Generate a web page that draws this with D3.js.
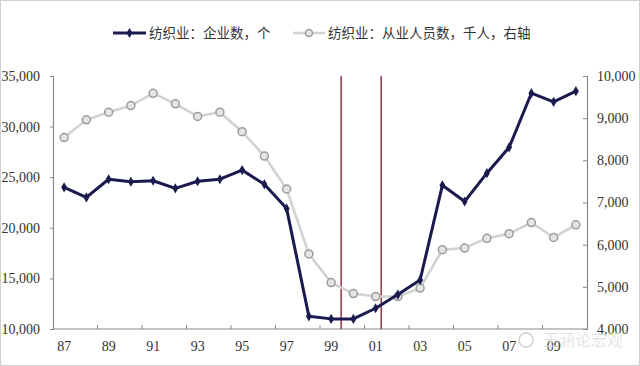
<!DOCTYPE html>
<html>
<head>
<meta charset="utf-8">
<script src="https://cdn.jsdelivr.net/npm/d3@7"></script>
<style>
  html, body { margin: 0; padding: 0; background: #fff; }
  svg { display: block; }
</style>
</head>
<body>
<svg id="chart"></svg>
<script>
// Textile industry: number of firms (left axis) vs employees, thousands (right axis), 1987-2010

const years = ["87","88","89","90","91","92","93","94","95","96","97","98",
               "99","00","01","02","03","04","05","06","07","08","09","10"];
const tickLabels = ["87","89","91","93","95","97","99","01","03","05","07","09"];

// 企业数，个 (left axis)
const firms = [24000, 23000, 24800, 24550, 24650, 23900, 24600, 24800, 25700, 24300, 21900, 11250,
               11000, 11000, 12050, 13400, 14850, 24200, 22600, 25400, 27950, 33300, 32450, 33500];
// 从业人员数，千人 (right axis)
const workers = [8540, 8960, 9140, 9300, 9590, 9340, 9040, 9140, 8680, 8100, 7320, 5780,
                 5100, 4840, 4770, 4770, 4970, 5880, 5920, 6150, 6260, 6525, 6170, 6470];

const leftTicks = [10000, 15000, 20000, 25000, 30000, 35000];
const rightTicks = [4000, 5000, 6000, 7000, 8000, 9000, 10000];
const eventYears = [1999.45, 2001.25];   // the two red vertical markers

const legendLabels = ["纺织业：企业数，个", "纺织业：从业人员数，千人，右轴"];

(function () {
  const W = 640, H = 366;
  const M = { top: 76, right: 53, bottom: 37, left: 53 };
  const x0 = M.left, x1 = W - M.right, yTop = M.top, yBot = H - M.bottom;

  const NAVY = "#1b1a4f";
  const GRAY_LINE = "#d2d2d2";
  const GRAY_MARK = "#9c9c9c";
  const RED = "#8e2636";
  const AXIS = "#8a8a8a";
  const SERIF = "'Liberation Serif', 'Times New Roman', serif";
  const CJK = "'Noto Sans CJK SC', 'Noto Sans', sans-serif";

  const svg = d3.select("#chart").attr("width", W).attr("height", H);

  // light frame round the picture
  svg.append("rect")
    .attr("x", 0.5).attr("y", 0.5).attr("width", W - 1).attr("height", H - 1)
    .attr("fill", "#fff").attr("stroke", "#cfcfcf");

  const x = d3.scaleBand().domain(years).range([x0, x1]);
  const step = x.step();
  const cx = d => x(d) + step / 2;
  const xYear = d3.scaleLinear().domain([1986.5, 2010.5]).range([x0, x1]);

  const yL = d3.scaleLinear().domain([10000, 35000]).range([yBot, yTop]);
  const yR = d3.scaleLinear().domain([4000, 10000]).range([yBot, yTop]);
  const fmt = d3.format(",");

  // left axis
  const gl = svg.append("g").attr("transform", `translate(${x0},0)`)
    .call(d3.axisLeft(yL).tickValues(leftTicks).tickFormat(fmt).tickSize(3).tickPadding(10));
  // right axis
  const gr = svg.append("g").attr("transform", `translate(${x1},0)`)
    .call(d3.axisRight(yR).tickValues(rightTicks).tickFormat(fmt).tickSize(-4).tickPadding(10));
  [gl, gr].forEach(g => {
    g.select(".domain").attr("stroke", AXIS).attr("stroke-width", 1.2);
    g.selectAll(".tick line").attr("stroke", AXIS);
    g.selectAll(".tick text").attr("font-family", SERIF).attr("font-size", 14).attr("fill", "#333");
  });
  gl.selectAll(".tick text").attr("x", -13);

  // bottom axis: ticks between every second category, labels under odd years
  svg.append("line")
    .attr("x1", x0).attr("x2", x1).attr("y1", yBot).attr("y2", yBot)
    .attr("stroke", AXIS).attr("stroke-width", 1.2);
  svg.append("g").selectAll("line")
    .data(years.filter((d, i) => i > 0 && i % 2 === 0)).enter()
    .append("line")
    .attr("x1", d => x(d)).attr("x2", d => x(d))
    .attr("y1", yBot).attr("y2", yBot - 4)
    .attr("stroke", AXIS);
  svg.append("g").selectAll("text")
    .data(tickLabels).enter()
    .append("text")
    .attr("x", d => cx(d)).attr("y", yBot + 22)
    .attr("text-anchor", "middle")
    .attr("font-family", SERIF).attr("font-size", 14).attr("fill", "#333")
    .text(d => d);

  // red event lines
  svg.append("g").selectAll("line")
    .data(eventYears).enter()
    .append("line")
    .attr("x1", d => xYear(d)).attr("x2", d => xYear(d))
    .attr("y1", yTop).attr("y2", yBot)
    .attr("stroke", RED).attr("stroke-width", 1.4);

  // employees — light gray line with hollow circles
  svg.append("path")
    .datum(workers)
    .attr("fill", "none").attr("stroke", GRAY_LINE).attr("stroke-width", 2.6)
    .attr("d", d3.line().x((d, i) => cx(years[i])).y(d => yR(d)));
  svg.append("g").selectAll("circle")
    .data(workers).enter()
    .append("circle")
    .attr("cx", (d, i) => cx(years[i])).attr("cy", d => yR(d)).attr("r", 4)
    .attr("fill", "#e4e4e4").attr("stroke", GRAY_MARK).attr("stroke-width", 1.5);

  // firms — navy line with small diamonds
  svg.append("path")
    .datum(firms)
    .attr("fill", "none").attr("stroke", NAVY).attr("stroke-width", 3)
    .attr("stroke-linejoin", "round")
    .attr("d", d3.line().x((d, i) => cx(years[i])).y(d => yL(d)));
  const diamond = d3.symbol().type(d3.symbolDiamond).size(30);
  svg.append("g").selectAll("path")
    .data(firms).enter()
    .append("path")
    .attr("transform", (d, i) => `translate(${cx(years[i])},${yL(d)})`)
    .attr("d", diamond)
    .attr("fill", NAVY);

  // legend
  const lg = svg.append("g").attr("transform", "translate(0,33)");
  lg.append("line").attr("x1", 113).attr("x2", 146).attr("stroke", NAVY).attr("stroke-width", 3);
  lg.append("path").attr("transform", "translate(129.5,0)").attr("d", diamond).attr("fill", NAVY);
  lg.append("text").attr("x", 149).attr("dy", "0.35em")
    .attr("font-family", CJK).attr("font-size", 13.5).attr("fill", "#333")
    .text(legendLabels[0]);
  lg.append("line").attr("x1", 293).attr("x2", 325).attr("stroke", GRAY_LINE).attr("stroke-width", 2.6);
  lg.append("circle").attr("cx", 309).attr("r", 3.5)
    .attr("fill", "#e4e4e4").attr("stroke", GRAY_MARK).attr("stroke-width", 1.5);
  lg.append("text").attr("x", 328).attr("dy", "0.35em")
    .attr("font-family", CJK).attr("font-size", 13.5).attr("fill", "#333")
    .text(legendLabels[1]);

  // watermark
  const wm = svg.append("g").attr("opacity", 0.75);
  wm.append("circle").attr("cx", 526).attr("cy", 340).attr("r", 7)
    .attr("fill", "none").attr("stroke", "#bdbdbd").attr("stroke-width", 1.3);
  wm.append("text").attr("x", 543).attr("y", 346)
    .attr("font-family", CJK).attr("font-size", 16).attr("fill", "#c4c4c4")
    .attr("stroke", "#fff").attr("stroke-width", 0.4)
    .text("王涵论宏观");
})();
</script>
</body>
</html>
